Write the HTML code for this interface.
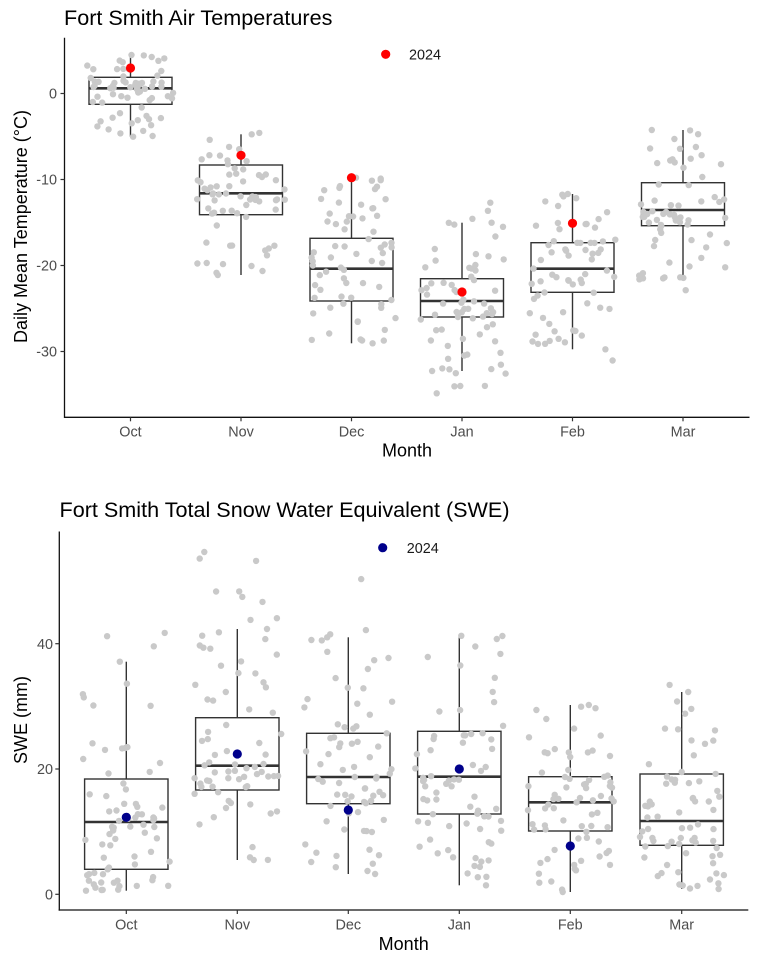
<!DOCTYPE html>
<html>
<head>
<meta charset="utf-8">
<style>
html,body{margin:0;padding:0;background:#fff;}
svg{display:block;font-family:"Liberation Sans",Arial,sans-serif;}
</style>
</head>
<body>
<svg id="s" width="772" height="960" viewBox="0 0 772 960" xmlns="http://www.w3.org/2000/svg">
<rect width="772" height="960" fill="#fff"/>

<!-- ================= TOP CHART ================= -->
<text x="64" y="25" font-size="21.6" fill="#000">Fort Smith Air Temperatures</text>

<g stroke="#333" stroke-width="1.4" fill="#fff">
  <line x1="130.5" y1="55" x2="130.5" y2="77.3"/><line x1="130.5" y1="104.3" x2="130.5" y2="136.7"/>
  <rect x="89" y="77.3" width="83" height="27"/>
  <line x1="241" y1="134.3" x2="241" y2="165"/><line x1="241" y1="214.7" x2="241" y2="275"/>
  <rect x="199.5" y="165" width="83" height="49.7"/>
  <line x1="351.5" y1="177.7" x2="351.5" y2="238.3"/><line x1="351.5" y1="301" x2="351.5" y2="343.3"/>
  <rect x="310" y="238.3" width="83" height="62.7"/>
  <line x1="462" y1="222.7" x2="462" y2="278.7"/><line x1="462" y1="317" x2="462" y2="371"/>
  <rect x="420.5" y="278.7" width="83" height="38.3"/>
  <line x1="572.5" y1="194" x2="572.5" y2="242.7"/><line x1="572.5" y1="292.3" x2="572.5" y2="349.3"/>
  <rect x="531" y="242.7" width="83" height="49.6"/>
  <line x1="683" y1="130" x2="683" y2="182.7"/><line x1="683" y1="225.7" x2="683" y2="279.3"/>
  <rect x="641.5" y="182.7" width="83" height="43"/>
</g>
<g stroke="#333" stroke-width="2.6">
  <line x1="89" y1="88.3" x2="172" y2="88.3"/>
  <line x1="199.5" y1="193.3" x2="282.5" y2="193.3"/>
  <line x1="310" y1="268.7" x2="393" y2="268.7"/>
  <line x1="420.5" y1="301" x2="503.5" y2="301"/>
  <line x1="531" y1="268.7" x2="614" y2="268.7"/>
  <line x1="641.5" y1="210" x2="724.5" y2="210"/>
</g>
<g id="ptop" fill="#c9c9c9"></g>
<g fill="#ff0000">
  <circle cx="130.5" cy="68" r="4.6"/>
  <circle cx="241" cy="155.3" r="4.6"/>
  <circle cx="351.5" cy="177.7" r="4.6"/>
  <circle cx="462" cy="292" r="4.6"/>
  <circle cx="572.5" cy="223.3" r="4.6"/>
</g>

<g stroke="#111" stroke-width="1.3" fill="none">
  <line x1="64.5" y1="37.7" x2="64.5" y2="418"/>
  <line x1="64" y1="417.3" x2="749.5" y2="417.3"/>
</g>
<g stroke="#333" stroke-width="1.2">
  <line x1="60.5" y1="93.5" x2="64.5" y2="93.5"/>
  <line x1="60.5" y1="179.5" x2="64.5" y2="179.5"/>
  <line x1="60.5" y1="265.5" x2="64.5" y2="265.5"/>
  <line x1="60.5" y1="351.5" x2="64.5" y2="351.5"/>
  <line x1="130.5" y1="417.3" x2="130.5" y2="421.3"/>
  <line x1="241" y1="417.3" x2="241" y2="421.3"/>
  <line x1="351.5" y1="417.3" x2="351.5" y2="421.3"/>
  <line x1="462" y1="417.3" x2="462" y2="421.3"/>
  <line x1="572.5" y1="417.3" x2="572.5" y2="421.3"/>
  <line x1="683" y1="417.3" x2="683" y2="421.3"/>
</g>
<g font-size="14.4" fill="#4d4d4d" text-anchor="end">
  <text x="57" y="98.6">0</text>
  <text x="57" y="184.6">-10</text>
  <text x="57" y="270.6">-20</text>
  <text x="57" y="356.6">-30</text>
</g>
<g font-size="14.4" fill="#4d4d4d" text-anchor="middle">
  <text x="130.5" y="436.7">Oct</text>
  <text x="241" y="436.7">Nov</text>
  <text x="351.5" y="436.7">Dec</text>
  <text x="462" y="436.7">Jan</text>
  <text x="572.5" y="436.7">Feb</text>
  <text x="683" y="436.7">Mar</text>
</g>
<text x="407" y="456.7" font-size="18" fill="#000" text-anchor="middle">Month</text>
<text transform="translate(27,226.5) rotate(-90)" font-size="18" fill="#000" text-anchor="middle">Daily Mean Temperature (°C)</text>

<circle cx="385.7" cy="54.3" r="4.6" fill="#ff0000"/>
<text x="409" y="59.4" font-size="14.4" fill="#1a1a1a">2024</text>

<!-- ================= BOTTOM CHART ================= -->
<text x="59.5" y="517" font-size="21.6" fill="#000">Fort Smith Total Snow Water Equivalent (SWE)</text>

<g stroke="#333" stroke-width="1.4" fill="#fff">
  <line x1="126.3" y1="661.7" x2="126.3" y2="779"/><line x1="126.3" y1="869.3" x2="126.3" y2="890.7"/>
  <rect x="84.6" y="779" width="83.4" height="90.3"/>
  <line x1="237.3" y1="629" x2="237.3" y2="717.7"/><line x1="237.3" y1="790" x2="237.3" y2="860"/>
  <rect x="195.6" y="717.7" width="83.4" height="72.3"/>
  <line x1="348.3" y1="637.3" x2="348.3" y2="733.3"/><line x1="348.3" y1="803.7" x2="348.3" y2="874"/>
  <rect x="306.6" y="733.3" width="83.4" height="70.4"/>
  <line x1="459.3" y1="636" x2="459.3" y2="731.3"/><line x1="459.3" y1="814" x2="459.3" y2="885.3"/>
  <rect x="417.6" y="731.3" width="83.4" height="82.7"/>
  <line x1="570.3" y1="705" x2="570.3" y2="776.7"/><line x1="570.3" y1="831" x2="570.3" y2="892"/>
  <rect x="528.6" y="776.7" width="83.4" height="54.3"/>
  <line x1="681.7" y1="692" x2="681.7" y2="774"/><line x1="681.7" y1="845.3" x2="681.7" y2="889"/>
  <rect x="640" y="774" width="83.4" height="71.3"/>
</g>
<g stroke="#333" stroke-width="2.6">
  <line x1="84.6" y1="822" x2="168" y2="822"/>
  <line x1="195.6" y1="765.7" x2="279" y2="765.7"/>
  <line x1="306.6" y1="777" x2="390" y2="777"/>
  <line x1="417.6" y1="776.7" x2="501" y2="776.7"/>
  <line x1="528.6" y1="802.3" x2="612" y2="802.3"/>
  <line x1="640" y1="821" x2="723.4" y2="821"/>
</g>
<g id="pbot" fill="#c9c9c9"></g>
<g fill="#00008b">
  <circle cx="126.3" cy="817.3" r="4.6"/>
  <circle cx="237.3" cy="754" r="4.6"/>
  <circle cx="348.3" cy="810" r="4.6"/>
  <circle cx="459.3" cy="769" r="4.6"/>
  <circle cx="570.3" cy="846" r="4.6"/>
</g>

<g stroke="#111" stroke-width="1.3" fill="none">
  <line x1="59.3" y1="531.5" x2="59.3" y2="910.6"/>
  <line x1="58.7" y1="910" x2="748.3" y2="910"/>
</g>
<g stroke="#333" stroke-width="1.2">
  <line x1="55.3" y1="894.3" x2="59.3" y2="894.3"/>
  <line x1="55.3" y1="769" x2="59.3" y2="769"/>
  <line x1="55.3" y1="643.7" x2="59.3" y2="643.7"/>
  <line x1="126.3" y1="910" x2="126.3" y2="914"/>
  <line x1="237.3" y1="910" x2="237.3" y2="914"/>
  <line x1="348.3" y1="910" x2="348.3" y2="914"/>
  <line x1="459.3" y1="910" x2="459.3" y2="914"/>
  <line x1="570.3" y1="910" x2="570.3" y2="914"/>
  <line x1="681.7" y1="910" x2="681.7" y2="914"/>
</g>
<g font-size="14.4" fill="#4d4d4d" text-anchor="end">
  <text x="53" y="899.4">0</text>
  <text x="53" y="774.1">20</text>
  <text x="53" y="648.8">40</text>
</g>
<g font-size="14.4" fill="#4d4d4d" text-anchor="middle">
  <text x="126.3" y="929.5">Oct</text>
  <text x="237.3" y="929.5">Nov</text>
  <text x="348.3" y="929.5">Dec</text>
  <text x="459.3" y="929.5">Jan</text>
  <text x="570.3" y="929.5">Feb</text>
  <text x="681.7" y="929.5">Mar</text>
</g>
<text x="403.7" y="950" font-size="18" fill="#000" text-anchor="middle">Month</text>
<text transform="translate(27,720) rotate(-90)" font-size="18" fill="#000" text-anchor="middle">SWE (mm)</text>

<circle cx="382.7" cy="547.7" r="4.6" fill="#00008b"/>
<text x="406.7" y="552.8" font-size="14.4" fill="#1a1a1a">2024</text>
</svg>

<script>
(function(){
  var NS="http://www.w3.org/2000/svg";
  function rng(seed){return function(){seed|=0;seed=seed+0x6D2B79F5|0;var t=Math.imul(seed^seed>>>15,1|seed);t=t+Math.imul(t^t>>>7,61|t)^t;return((t^t>>>14)>>>0)/4294967296;};}
  function q(s,u){var k=[s[4],s[3],s[2],s[1],s[0]];var f=u*4;var i=Math.min(3,Math.floor(f));return k[i]+(k[i+1]-k[i])*(f-i);}
  function gen(g,cx,s,n,hi,lo,seed,jw,ymax){
    var r=rng(seed),pts=[],i;
    pts.push([cx+(r()*2-1)*jw,s[0]]);
    pts.push([cx+(r()*2-1)*jw,s[4]]);
    for(i=0;i<n;i++){pts.push([cx+(r()*2-1)*jw,q(s,r())]);}
    for(i=0;i<hi[0];i++){pts.push([cx+(r()*2-1)*jw,s[0]-r()*hi[1]]);}
    for(i=0;i<lo[0];i++){pts.push([cx+(r()*2-1)*jw,s[4]+r()*lo[1]]);}
    for(i=0;i<pts.length;i++){
      var c=document.createElementNS(NS,"circle");
      var y=pts[i][1]; if(ymax&&y>ymax)y=ymax;
      c.setAttribute("cx",pts[i][0].toFixed(1));
      c.setAttribute("cy",y.toFixed(1));
      c.setAttribute("r","3.2");
      g.appendChild(c);
    }
  }
  var gt=document.getElementById("ptop");
  gen(gt,130.5,[55,77.3,88.3,104.3,136.7],66,[0,0],[0,0],11,44);
  gen(gt,241,[134.3,165,193.3,214.7,275],64,[1,3],[0,0],22,44);
  gen(gt,351.5,[177.7,238.3,268.7,301,343.3],68,[0,0],[0,0],33,44);
  gen(gt,462,[222.7,278.7,301,317,371],60,[3,25],[6,30],44,44);
  gen(gt,572.5,[194,242.7,268.7,292.3,349.3],66,[0,0],[1,18],55,44);
  gen(gt,683,[130,182.7,210,225.7,279.3],64,[0,0],[1,20],66,44);
  var gb=document.getElementById("pbot");
  gen(gb,126.3,[661.7,779,822,869.3,890.7],70,[3,40],[0,0],77,44,893);
  gen(gb,237.3,[629,717.7,765.7,790,860],66,[9,80],[0,0],88,44);
  gen(gb,348.3,[637.3,733.3,777,803.7,874],70,[3,66],[0,0],99,44);
  gen(gb,459.3,[636,731.3,776.7,814,885.3],72,[1,10],[0,0],111,44);
  gen(gb,570.3,[705,776.7,802.3,831,892],72,[0,0],[0,0],122,44);
  gen(gb,681.7,[692,774,821,845.3,889],70,[1,32],[0,0],133,44);
})();
</script>
</body>
</html>
